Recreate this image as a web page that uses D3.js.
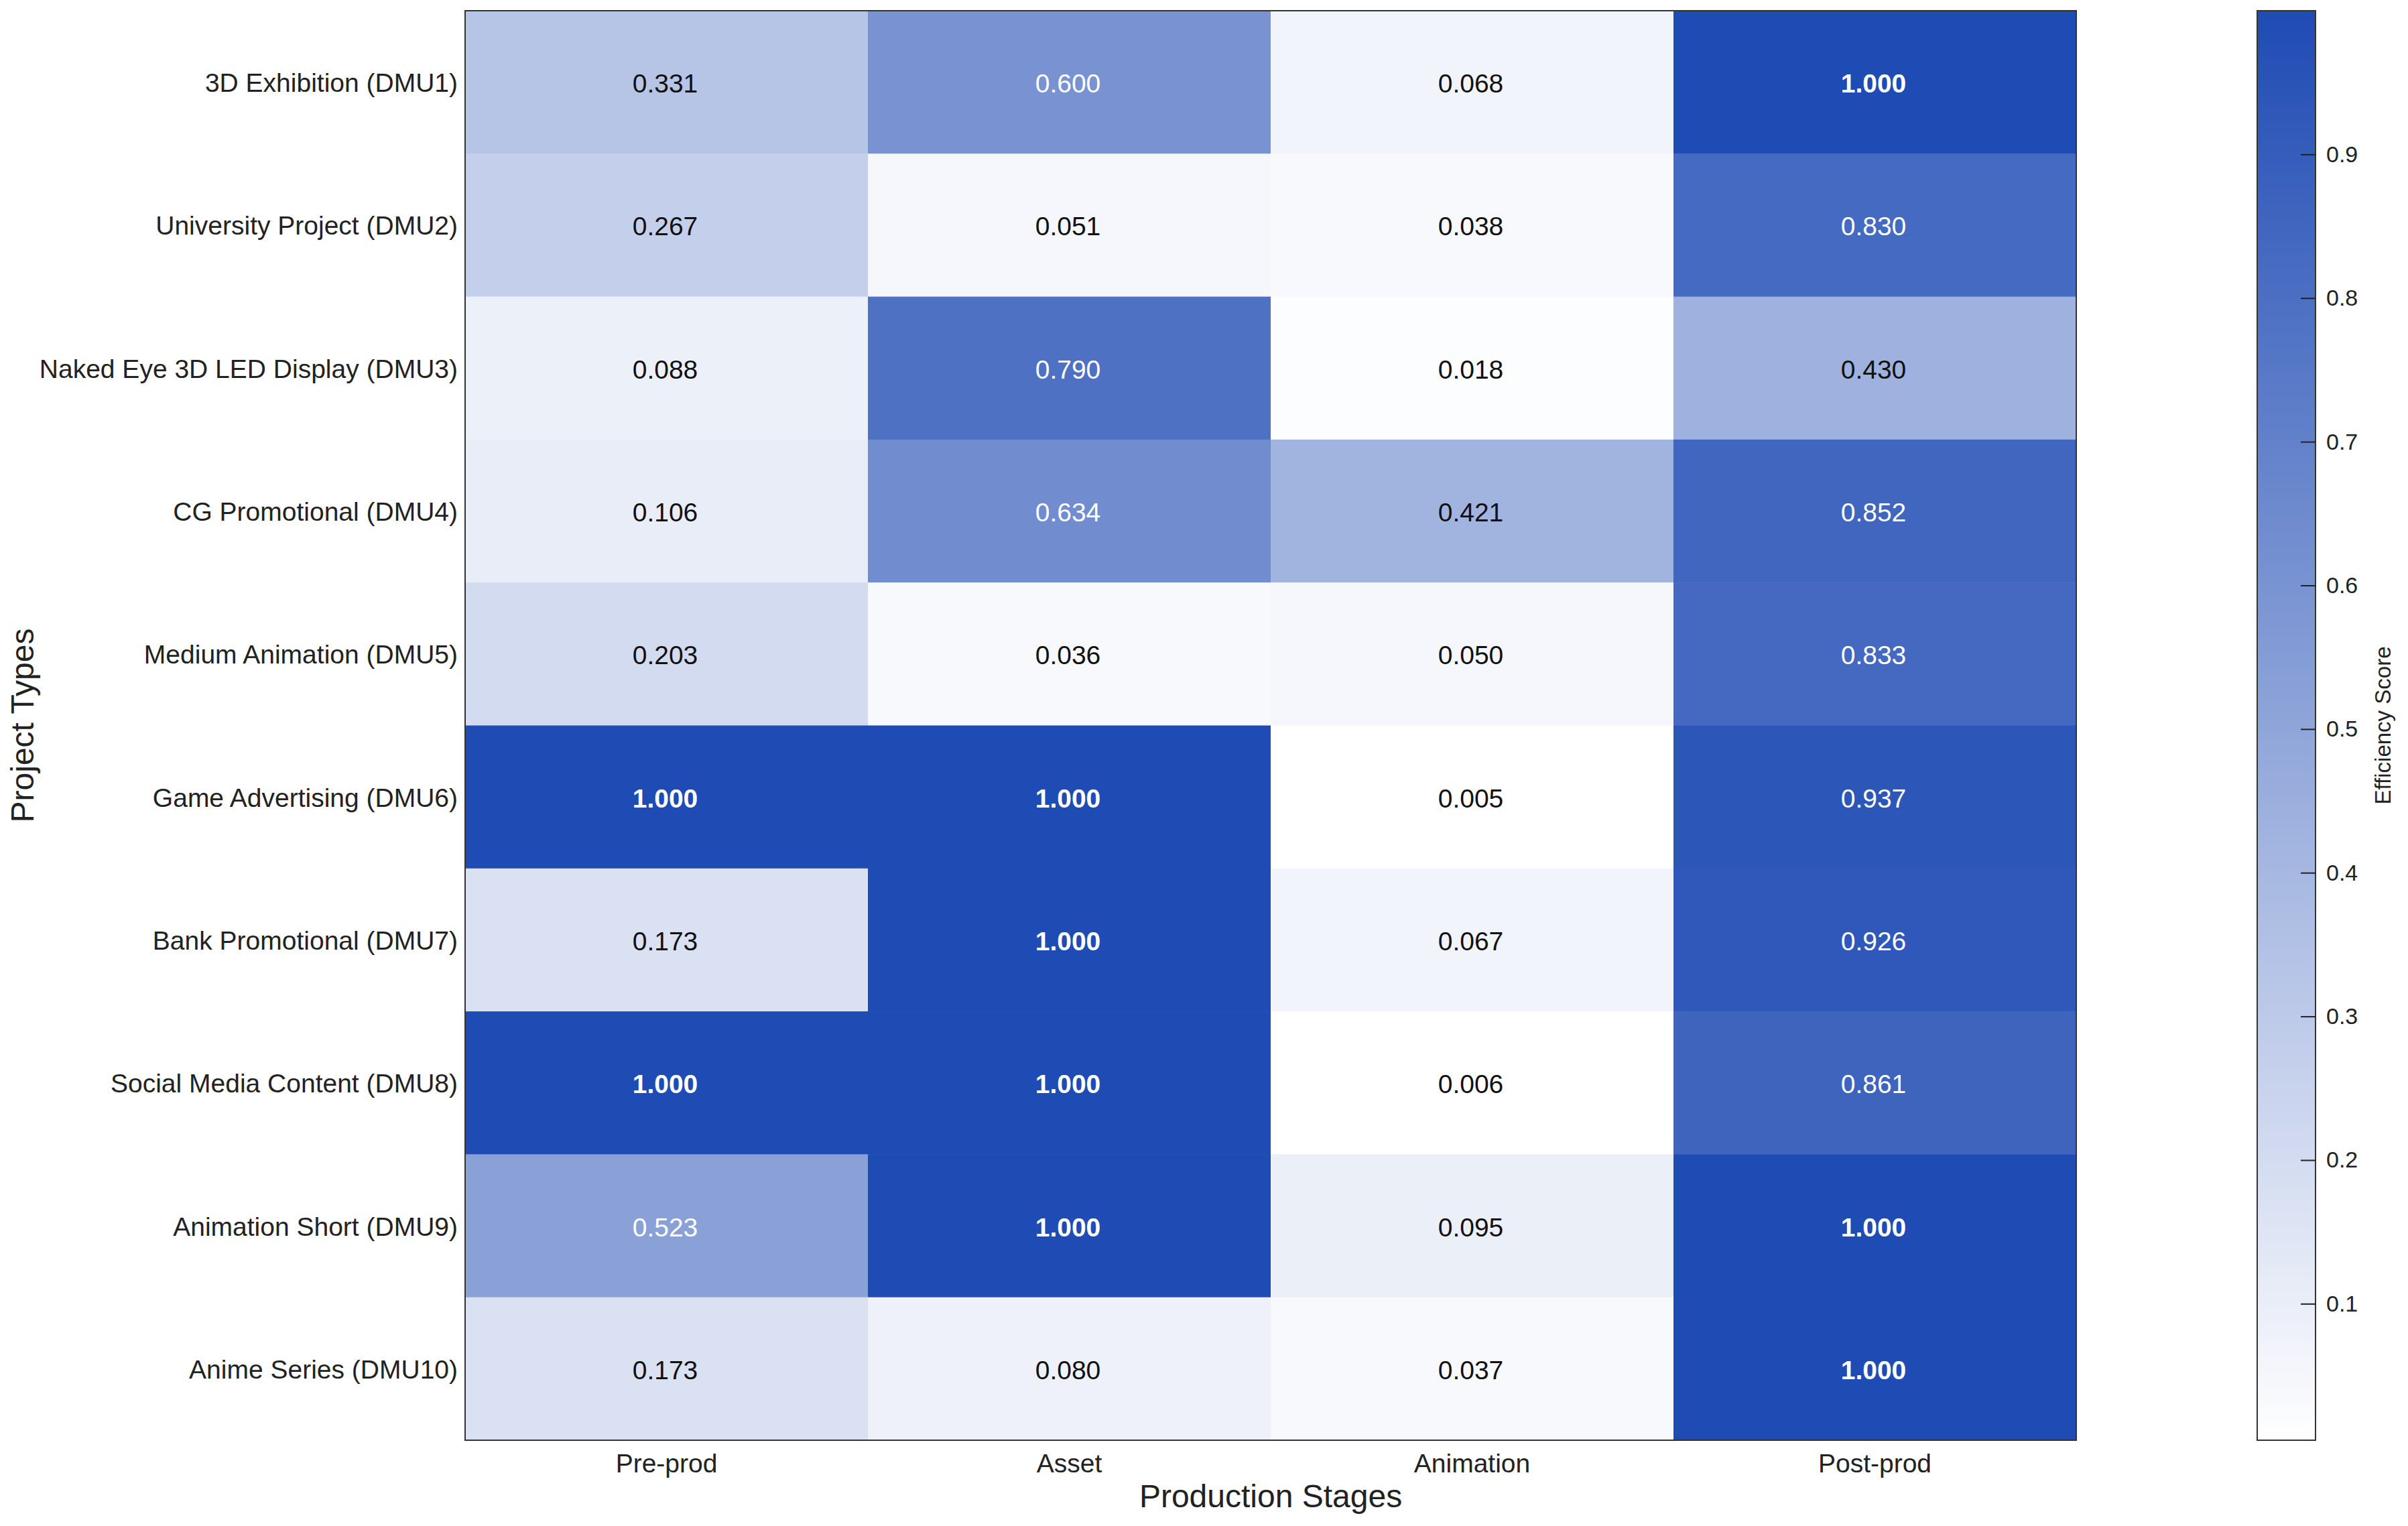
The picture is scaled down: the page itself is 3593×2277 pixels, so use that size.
<!DOCTYPE html>
<html>
<head>
<meta charset="utf-8" />
<title>Efficiency heatmap</title>
<style>
body { margin: 0; background: #fff; }
text { font-family: "Liberation Sans", Arial, Helvetica, sans-serif; }
</style>
</head>
<body>
<div id="chart"></div>
<script src="https://cdnjs.cloudflare.com/ajax/libs/d3/7.8.5/d3.min.js"></script>
<script>
// data
var stages = ["Pre-prod", "Asset", "Animation", "Post-prod"]
var projects = ["3D Exhibition (DMU1)", "University Project (DMU2)", "Naked Eye 3D LED Display (DMU3)",
    "CG Promotional (DMU4)", "Medium Animation (DMU5)", "Game Advertising (DMU6)",
    "Bank Promotional (DMU7)", "Social Media Content (DMU8)", "Animation Short (DMU9)", "Anime Series (DMU10)"]
var preProd   = [0.331, 0.267, 0.088, 0.106, 0.203, 1.000, 0.173, 1.000, 0.523, 0.173]
var asset     = [0.600, 0.051, 0.790, 0.634, 0.036, 1.000, 1.000, 1.000, 1.000, 0.080]
var animation = [0.068, 0.038, 0.018, 0.421, 0.050, 0.005, 0.067, 0.006, 0.095, 0.037]
var postProd  = [1.000, 0.830, 0.430, 0.852, 0.833, 0.937, 0.926, 0.861, 1.000, 1.000]
var colorTicks = [0.1, 0.2, 0.3, 0.4, 0.5, 0.6, 0.7, 0.8, 0.9]

!(function(){
    "use strict"

    var width = 3593, height = 2277
    var plot = {left: 694, top: 16, right: 3098, bottom: 2149}
    var bar = {left: 3368, right: 3455}

    var series = [preProd, asset, animation, postProd]
    var cells = []
    projects.forEach(function(p, i) {
        stages.forEach(function(s, j) {
            cells.push({project: p, stage: s, value: series[j][i]})
        })
    })

    var vmin = d3.min(cells, function(d) { return d.value })
    var vmax = d3.max(cells, function(d) { return d.value })

    var color = d3.scaleLinear().domain([vmin, vmax]).range(["#ffffff", "#1f4bb4"])

    var x = d3.scaleBand().domain(stages).range([plot.left, plot.right])
    var y = d3.scaleBand().domain(projects).range([plot.top, plot.bottom])

    var svg = d3.select("#chart").append("svg")
        .attr("width", width).attr("height", height)

    // cells
    svg.append("g").selectAll("rect")
        .data(cells).enter().append("rect")
        .attr("x", function(d) { return x(d.stage) })
        .attr("y", function(d) { return y(d.project) })
        .attr("width", x.bandwidth() + 0.5)
        .attr("height", y.bandwidth() + 0.5)
        .attr("fill", function(d) { return color(d.value) })

    svg.append("g").selectAll("text")
        .data(cells).enter().append("text")
        .attr("x", function(d) { return x(d.stage) + x.bandwidth() / 2 - 2 })
        .attr("y", function(d) { return y(d.project) + y.bandwidth() / 2 + 2 })
        .attr("text-anchor", "middle")
        .attr("dominant-baseline", "central")
        .style("font-size", "39px")
        .style("font-weight", function(d) { return d.value >= 1 ? "bold" : "normal" })
        .attr("fill", function(d) { return d.value > 0.5 ? "#ffffff" : "#111111" })
        .text(function(d) { return d.value.toFixed(3) })

    svg.append("rect")
        .attr("x", plot.left).attr("y", plot.top)
        .attr("width", plot.right - plot.left).attr("height", plot.bottom - plot.top)
        .attr("fill", "none").attr("stroke", "#333").attr("stroke-width", 2)

    // axes
    var yAxis = svg.append("g")
        .attr("transform", "translate(" + plot.left + ",2)")
        .call(d3.axisLeft(y).tickSize(0).tickPadding(11))
    var xAxis = svg.append("g")
        .attr("transform", "translate(0," + plot.bottom + ")")
        .call(d3.axisBottom(x).tickSize(0).tickPadding(20))
    ;[xAxis, yAxis].forEach(function(a) {
        a.select(".domain").remove()
        a.selectAll("text").style("font-size", "39px").attr("fill", "#222")
            .style("font-family", "\"Liberation Sans\", Arial, sans-serif")
    })

    svg.append("text")
        .attr("x", (plot.left + plot.right) / 2).attr("y", 2249)
        .attr("text-anchor", "middle")
        .style("font-size", "48px").attr("fill", "#222")
        .text("Production Stages")

    svg.append("text")
        .attr("transform", "translate(50," + (plot.top + plot.bottom) / 2 + ") rotate(-90)")
        .attr("text-anchor", "middle")
        .style("font-size", "48px").attr("fill", "#222")
        .text("Project Types")

    // colorbar
    var cy = d3.scaleLinear().domain([vmin, vmax]).range([plot.bottom, plot.top])
    var grad = svg.append("defs").append("linearGradient")
        .attr("id", "cbar").attr("x1", 0).attr("y1", 1).attr("x2", 0).attr("y2", 0)
    grad.selectAll("stop").data([vmin, vmax]).enter().append("stop")
        .attr("offset", function(d, i) { return i })
        .attr("stop-color", function(d) { return color(d) })

    svg.append("rect")
        .attr("x", bar.left).attr("y", plot.top)
        .attr("width", bar.right - bar.left).attr("height", plot.bottom - plot.top)
        .attr("fill", "url(#cbar)").attr("stroke", "#333").attr("stroke-width", 2)

    var cAxis = svg.append("g")
        .attr("transform", "translate(" + bar.right + ",0)")
        .call(d3.axisRight(cy).tickValues(colorTicks).tickFormat(d3.format(".1f")).tickSize(0).tickPadding(16))
    cAxis.select(".domain").remove()
    cAxis.selectAll("text").style("font-size", "34px").attr("fill", "#222")
        .style("font-family", "\"Liberation Sans\", Arial, sans-serif")
    cAxis.selectAll(".tick").append("line")
        .attr("x1", -22).attr("x2", 0).attr("stroke", "#222").attr("stroke-width", 2)

    svg.append("text")
        .attr("transform", "translate(3567," + (plot.top + plot.bottom) / 2 + ") rotate(-90)")
        .attr("text-anchor", "middle")
        .style("font-size", "33px").attr("fill", "#222")
        .text("Efficiency Score")
}());
</script>
</body>
</html>
